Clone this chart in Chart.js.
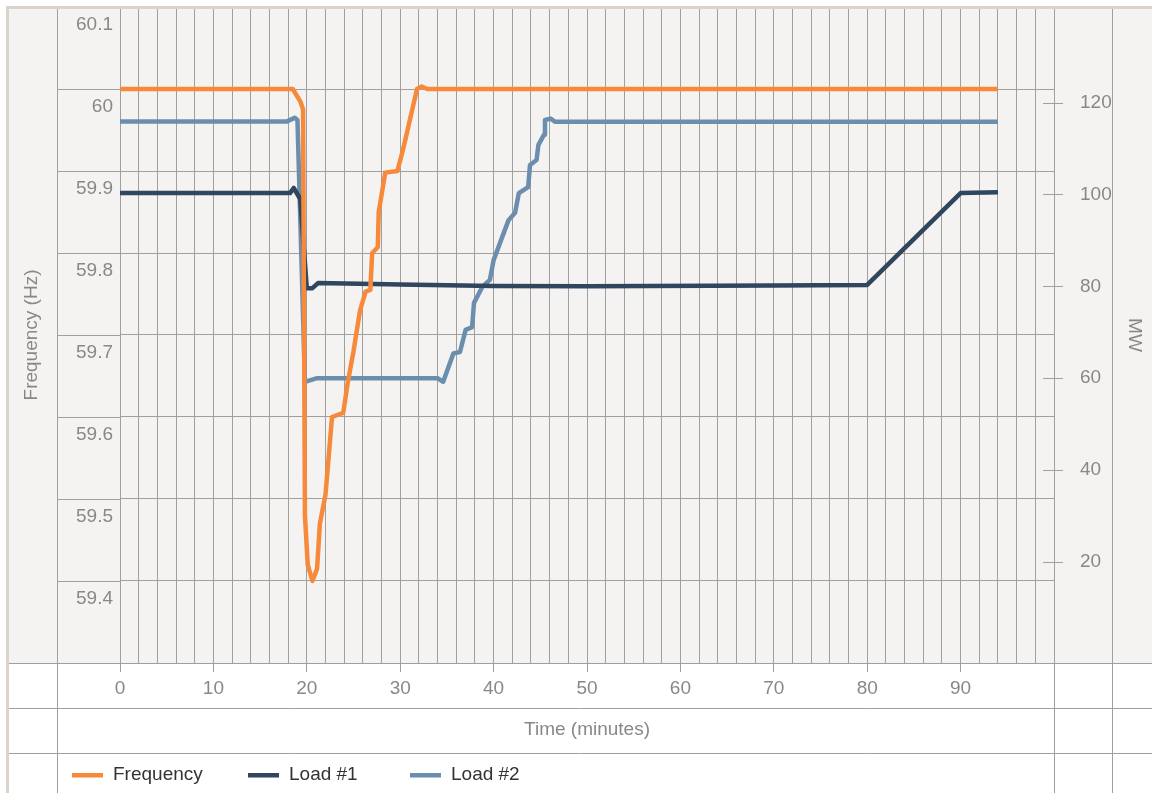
<!DOCTYPE html>
<html>
  <head>
    <meta charset="UTF-8" />
    <title>Frequency and load</title>
    <style>
      body {
        margin: 0;
        padding: 0;
        background-color: #fff;
      }
      .chart-container {
        width: 1152px;
        height: 793px;
        position: relative;
      }
    </style>
  </head>
  <body>
    <div class="chart-container">
      <canvas id="freqChart"></canvas>
    </div>

    <script src="https://cdn.jsdelivr.net/npm/chart.js"></script>
    <script>
      // values (minutes / Hz / MW)
      const freqTime = [0, 18.5, 19.3, 19.6, 19.8, 20.1, 20.6, 21.1, 21.4, 22.0, 22.7, 23.9, 24.4, 25.0, 25.7, 26.3, 26.8, 27.0, 27.6, 27.7, 28.4, 29.7, 30.3, 31.8, 32.3, 32.9, 94];
      const freqValue = [60, 60, 59.985, 59.975, 59.48, 59.42, 59.4, 59.415, 59.47, 59.505, 59.6, 59.605, 59.643, 59.68, 59.73, 59.753, 59.755, 59.8, 59.807, 59.85, 59.898, 59.9, 59.926, 60.0, 60.003, 60.0, 60];

      const load1Time = [0, 18.2, 18.6, 19.3, 20.0, 20.6, 21.2, 30, 40, 50, 70, 80, 90, 94];
      const load1Value = [100.3, 100.3, 101.4, 99, 79.6, 79.6, 80.7, 80.4, 80.05, 80.0, 80.2, 80.3, 100.3, 100.5];

      const load2Time = [0, 17.9, 18.7, 19.0, 19.8, 21.1, 34.0, 34.6, 35.7, 36.4, 37.0, 37.7, 37.9, 38.8, 39.6, 40.0, 41.6, 42.3, 42.7, 43.7, 43.9, 44.6, 44.8, 45.4, 45.5, 46.1, 46.6, 94];
      const load2Value = [115.9, 115.9, 116.7, 116.2, 59.2, 60.0, 60.0, 59.2, 65.4, 65.7, 70.5, 71.1, 76.4, 79.9, 81.4, 85.7, 94.4, 96.0, 100.3, 101.6, 106.4, 107.5, 110.8, 113.0, 116.2, 116.5, 115.8, 115.8];

      const seriesNames = ["Frequency", "Load #1", "Load #2"];
      const seriesColors = ["#f7893b", "#2f465e", "#6b8eae"];
      const xTickLabels = [0, 10, 20, 30, 40, 50, 60, 70, 80, 90];
      const mwTicks = [20, 40, 60, 80, 100, 120];

      const gridColor = "#9f9f9f";
      const textColor = "#888888";
      const font = { family: "'Liberation Sans', Arial, sans-serif", size: 19 };

      function toPoints(xs, ys) {
        return xs.map((x, i) => ({ x: x, y: ys[i] }));
      }

      // no extra room for labels that hang over the plot edges
      function noEdgePadding(scale) {
        scale.paddingTop = 0;
        scale.paddingBottom = 0;
        scale.paddingLeft = 0;
        scale.paddingRight = 0;
      }

      // background, frame and table lines around the plot
      const framePlugin = {
        id: "frame",
        beforeDraw(chart) {
          const ctx = chart.ctx;
          const area = chart.chartArea;
          ctx.save();
          ctx.fillStyle = "#ffffff";
          ctx.fillRect(0, 0, chart.width, chart.height);
          ctx.fillStyle = "#f4f3f1";
          ctx.fillRect(9, 9, chart.width - 9, area.bottom - 9);
          ctx.restore();
        },
        beforeDatasetsDraw(chart) {
          const ctx = chart.ctx;
          const area = chart.chartArea;
          const y = chart.scales.y;
          const y1 = chart.scales.y1;
          ctx.save();
          ctx.strokeStyle = gridColor;
          ctx.lineWidth = 1;
          ctx.beginPath();
          // grid lines carried into the label column
          y.ticks.forEach((t) => {
            const py = Math.round(y.getPixelForValue(t.value)) + 0.5;
            ctx.moveTo(57, py);
            ctx.lineTo(area.left, py);
          });
          // right hand tick marks
          y1.ticks.forEach((t) => {
            const py = Math.round(y1.getPixelForValue(t.value)) + 0.5;
            ctx.moveTo(area.right - 11, py);
            ctx.lineTo(area.right + 9, py);
          });
          // table rows and columns
          [area.bottom, 708, 753].forEach((py) => {
            ctx.moveTo(9, Math.round(py) + 0.5);
            ctx.lineTo(chart.width, Math.round(py) + 0.5);
          });
          [57, area.right, 1112].forEach((px) => {
            ctx.moveTo(Math.round(px) + 0.5, 9);
            ctx.lineTo(Math.round(px) + 0.5, chart.height);
          });
          ctx.stroke();
          ctx.restore();
        },
        afterDraw(chart) {
          const ctx = chart.ctx;
          ctx.save();
          ctx.fillStyle = "#dad3ca";
          ctx.fillRect(6, 6, chart.width - 6, 3);
          ctx.fillRect(6, 6, 3, chart.height - 6);

          // legend row
          const startX = [72, 248, 410];
          const ly = 775;
          ctx.font = font.size + "px " + font.family;
          ctx.textBaseline = "middle";
          ctx.textAlign = "left";
          chart.data.datasets.forEach((ds, i) => {
            ctx.fillStyle = ds.borderColor;
            ctx.fillRect(startX[i], ly - 2, 31, 4.5);
            ctx.fillStyle = "#333333";
            ctx.fillText(ds.label, startX[i] + 41, ly);
          });
          ctx.restore();
        },
      };

      const chart = new Chart(document.getElementById("freqChart"), {
        type: "line",
        data: {
          datasets: [
            { label: seriesNames[0], data: toPoints(freqTime, freqValue), yAxisID: "y" },
            { label: seriesNames[1], data: toPoints(load1Time, load1Value), yAxisID: "y1" },
            { label: seriesNames[2], data: toPoints(load2Time, load2Value), yAxisID: "y1" },
          ].map((ds, i) => ({
            ...ds,
            borderColor: seriesColors[i],
            backgroundColor: seriesColors[i],
            borderWidth: 4.5,
            pointRadius: 0,
            tension: 0,
            fill: false,
            borderJoinStyle: "round",
          })),
        },
        options: {
          responsive: true,
          maintainAspectRatio: false,
          animation: false,
          layout: { padding: { top: 7, left: 9, right: 0, bottom: 40 } },
          plugins: {
            legend: { display: false },
            tooltip: { enabled: false },
          },
          scales: {
            x: {
              type: "linear",
              position: "bottom",
              min: 0,
              max: 100,
              afterFit: (scale) => {
                scale.height = 90;
                noEdgePadding(scale);
              },
              ticks: {
                stepSize: 2,
                autoSkip: false,
                maxRotation: 0,
                padding: 5,
                color: textColor,
                font: font,
                callback: (v) => (xTickLabels.includes(v) ? String(v) : ""),
              },
              grid: {
                color: gridColor,
                tickLength: 9,
                tickColor: (ctx) => (ctx.tick && xTickLabels.includes(ctx.tick.value) ? gridColor : "rgba(0,0,0,0)"),
              },
              border: { display: false },
              title: {
                display: true,
                text: "Time (minutes)",
                color: textColor,
                font: font,
                padding: { top: 0, bottom: 12 },
              },
            },
            y: {
              position: "left",
              min: 59.3,
              max: 60.1,
              afterFit: (scale) => {
                scale.width = 111;
                noEdgePadding(scale);
              },
              ticks: {
                stepSize: 0.1,
                padding: 7,
                labelOffset: 17.5,
                color: textColor,
                font: font,
                callback: (v) => (v < 59.35 ? "" : String(Math.round(v * 10) / 10)),
              },
              grid: { color: gridColor, drawTicks: false },
              border: { display: false },
              title: {
                display: true,
                text: "Frequency (Hz)",
                color: textColor,
                font: font,
                padding: { top: 11, bottom: 0 },
              },
            },
            y1: {
              position: "right",
              min: -2,
              max: 140.8,
              afterBuildTicks: (scale) => {
                scale.ticks = mwTicks.map((v) => ({ value: v }));
              },
              afterFit: (scale) => {
                scale.width = 98;
                noEdgePadding(scale);
              },
              ticks: {
                padding: 18,
                color: textColor,
                font: font,
              },
              grid: { display: false },
              border: { display: false },
              title: {
                display: true,
                text: "MW",
                color: textColor,
                font: font,
                padding: { top: 6, bottom: 0 },
              },
            },
          },
        },
        plugins: [framePlugin],
      });
    </script>
  </body>
</html>
